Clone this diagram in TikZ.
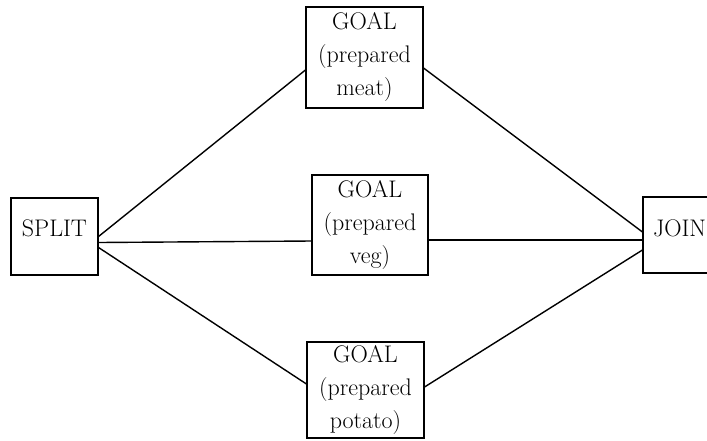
\documentclass[tikz,border=0pt]{standalone}
\begin{document}
\begin{tikzpicture}[x=1pt,y=-1pt,
  box/.style={draw,line width=1.1pt,rectangle,inner sep=0pt,align=center,
    font=\fontsize{24}{33}\selectfont},
  link/.style={line width=1.4pt}]
\useasboundingbox (0,0) rectangle (707,440);
\node[box,minimum width=87pt,minimum height=77pt,text depth=16pt] (split) at (54.5,236.5) {SPLIT};
\node[box,minimum width=117pt,minimum height=101pt] (meat) at (364.5,57.5) {GOAL\\(prepared\\meat)};
\node[box,minimum width=116pt,minimum height=100pt] (veg) at (370,225) {GOAL\\(prepared\\veg)};
\node[box,minimum width=117pt,minimum height=96pt] (potato) at (365.5,390) {GOAL\\(prepared\\potato)};
\node[box,minimum width=72pt,minimum height=76pt,text depth=14pt,text width=60pt,align=left] (join) at (679,235) {\hspace*{4pt}JOIN};
\draw[link] (split.east) -- ([yshift=-12.5pt]meat.west);
\draw[link] ([yshift=-6pt]split.east) -- ([yshift=-16pt]veg.west);
\draw[link] ([yshift=-11pt]split.east) -- ([yshift=6pt]potato.west);
\draw[link] ([yshift=-10.5pt]meat.east) -- ([yshift=3pt]join.west);
\draw[link] ([yshift=-15pt]veg.east) -- ([yshift=-5pt]join.west);
\draw[link] ([yshift=3pt]potato.east) -- ([yshift=-15pt]join.west);
\end{tikzpicture}
\end{document}
